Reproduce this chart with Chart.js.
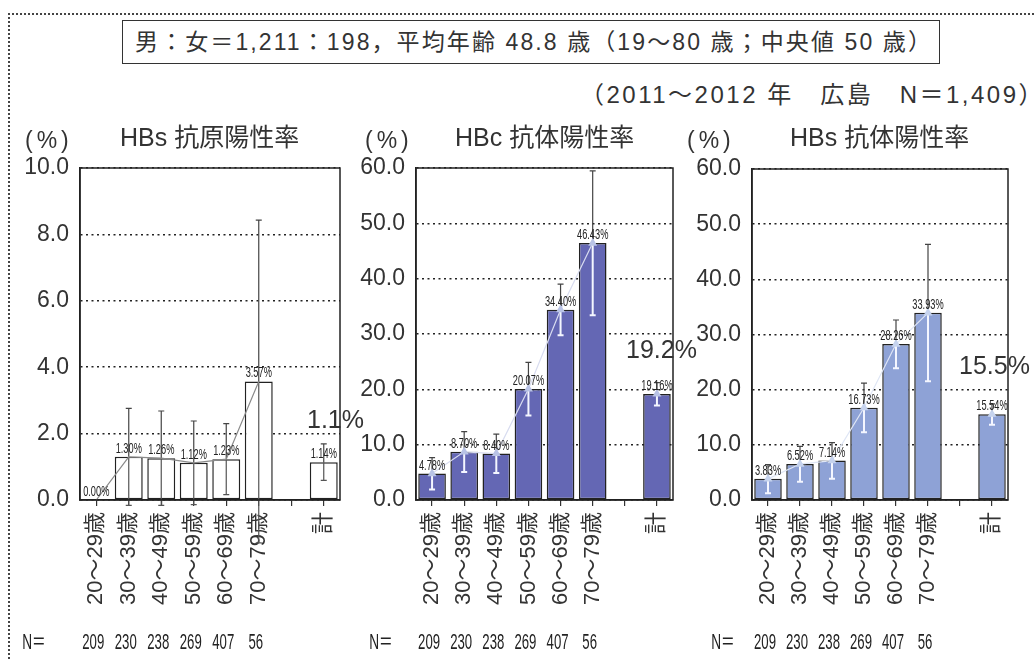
<!DOCTYPE html>
<html lang="ja">
<head>
<meta charset="UTF-8">
<title>HBV マーカー陽性率（広島 2011～2012年）</title>
<script src="https://cdn.jsdelivr.net/npm/chart.js"></script>
<style>
  body {
    margin: 0;
    width: 1034px;
    height: 660px;
    position: relative;
    overflow: hidden;
    background: #fff;
    color: #333;
    font-family: "Liberation Sans", "Noto Sans CJK JP", sans-serif;
  }
  .frame {
    position: absolute;
    left: 8px; top: 13px;
    width: 1100px; height: 700px;
    border-top: 2px dotted #444;
    border-left: 2px dotted #444;
  }
  .titleBox {
    position: absolute;
    left: 122px; top: 20px;
    width: 816px; height: 42px;
    border: 1.5px solid #333;
    font-size: 23px;
    line-height: 42px;
    text-align: center;
    letter-spacing: 2.1px;
    text-indent: 6px;
  }
  .sub {
    position: absolute;
    left: 580px; top: 81px;
    font-size: 24px;
    line-height: 28px;
    letter-spacing: 2.5px;
    white-space: nowrap;
  }
  .txt {
    position: absolute;
    white-space: nowrap;
    line-height: 28px;
    z-index: 2;
  }
  .ptitle { font-size: 25px; }
  .unit { font-size: 23px; letter-spacing: 4px; }
  .big { font-size: 25px; }
  canvas { position: absolute; top: 150px; }
</style>
</head>
<body>
  <div class="frame"></div>
  <div class="titleBox">男：女＝1,211：198，平均年齢 48.8 歳（19～80 歳；中央値 50 歳）</div>
  <div class="sub">（2011～2012 年　広島　N＝1,409）</div>

  <div class="txt unit" style="left:25px;top:126px;">(%)</div>
  <div class="txt ptitle" style="left:120px;top:123px;">HBs 抗原陽性率</div>
  <div class="txt unit" style="left:365px;top:126px;">(%)</div>
  <div class="txt ptitle" style="left:455px;top:123px;">HBc 抗体陽性率</div>
  <div class="txt unit" style="left:687px;top:126px;">(%)</div>
  <div class="txt ptitle" style="left:790px;top:123px;">HBs 抗体陽性率</div>

  <div class="txt big" style="left:307px;top:405px;">1.1%</div>
  <div class="txt big" style="left:626px;top:335px;">19.2%</div>
  <div class="txt big" style="left:959px;top:351px;">15.5%</div>

  <canvas id="chartAg" width="345" height="510" style="left:0px;"></canvas>
  <canvas id="chartHBc" width="340" height="510" style="left:345px;"></canvas>
  <canvas id="chartHBs" width="349" height="510" style="left:685px;"></canvas>

<script>
  // 年代別カテゴリ（7番目は「計」との間の空き）
  const ageGroups = ['20～29歳', '30～39歳', '40～49歳', '50～59歳', '60～69歳', '70～79歳', '', '計'];
  const groupN = [209, 230, 238, 269, 407, 56];

  // 陽性率 (%) と誤差幅 (±%)
  const hbsAgRate = [0.00, 1.30, 1.26, 1.12, 1.23, 3.57, null, 1.14];
  const hbsAgErr  = [0, 1.46, 1.42, 1.26, 1.07, 4.86, null, 0.55];
  const hbcAbRate = [4.78, 8.70, 8.40, 20.07, 34.40, 46.43, null, 19.16];
  const hbcAbErr  = [2.89, 3.64, 3.52, 4.79, 4.62, 13.06, null, 2.06];
  const hbsAbRate = [3.83, 6.52, 7.14, 16.73, 28.26, 33.93, null, 15.54];
  const hbsAbErr  = [2.60, 3.19, 3.27, 4.46, 4.37, 12.40, null, 1.89];

  const FONT = '"Liberation Sans", "Noto Sans CJK JP", sans-serif';

  // 目盛ラベルによる余白の自動追加を止めて、描画領域を固定する
  function noPadding(s) {
    s.paddingTop = 0;
    s.paddingBottom = 0;
    s.paddingLeft = 0;
    s.paddingRight = 0;
  }

  function makePanel(id, p) {
    // 誤差棒：棒より上は濃色、棒の中は白線
    const errorBars = {
      id: 'errorBars',
      afterDatasetDraw(chart, args) {
        if (args.index !== 1) return;
        const ctx = chart.ctx, xs = chart.scales.x, ys = chart.scales.y;
        p.err.forEach((e, i) => {
          if (!e) return;
          const v = p.rate[i];
          const px = xs.getPixelForValue(i);
          const yHi = ys.getPixelForValue(v + e);
          const yV = ys.getPixelForValue(v);
          const yLo = ys.getPixelForValue(v - e);
          ctx.save();
          ctx.lineWidth = 1.2;
          ctx.strokeStyle = '#444';
          ctx.beginPath();
          ctx.moveTo(px, yHi); ctx.lineTo(px, yV);
          ctx.moveTo(px - 3, yHi); ctx.lineTo(px + 3, yHi);
          ctx.stroke();
          ctx.lineWidth = p.innerWidth;
          ctx.strokeStyle = p.inner;
          ctx.beginPath();
          ctx.moveTo(px, yV); ctx.lineTo(px, yLo);
          ctx.moveTo(px - 3, yLo); ctx.lineTo(px + 3, yLo);
          ctx.stroke();
          ctx.restore();
        });
      }
    };

    // 枠線・数値ラベル・N 行
    const extras = {
      id: 'extras',
      afterDraw(chart) {
        const ctx = chart.ctx, a = chart.chartArea, xs = chart.scales.x, ys = chart.scales.y;
        ctx.save();
        ctx.strokeStyle = '#222';
        ctx.lineWidth = 1.5;
        ctx.strokeRect(a.left, a.top, a.right - a.left, a.bottom - a.top);

        ctx.fillStyle = '#222';
        ctx.textAlign = 'center';
        ctx.textBaseline = 'alphabetic';
        ctx.font = '14px ' + FONT;
        p.rate.forEach((v, i) => {
          if (v === null) return;
          const px = xs.getPixelForValue(i);
          const py = ys.getPixelForValue(v) - 4;
          ctx.save();
          ctx.translate(px, py);
          ctx.scale(0.66, 1);
          ctx.fillText(v.toFixed(2) + '%', 0, 0);
          ctx.restore();
        });

        ctx.font = '22px ' + FONT;
        ctx.textBaseline = 'middle';
        const rowY = 643 - 150;
        ctx.save();
        ctx.translate(a.left - p.nOffset, rowY);
        ctx.scale(0.62, 1);
        ctx.fillText('N＝', 0, 0);
        ctx.restore();
        groupN.forEach((n, i) => {
          ctx.save();
          ctx.translate(xs.getPixelForValue(i) - 3, rowY);
          ctx.scale(0.6, 1);
          ctx.fillText(String(n), 0, 0);
          ctx.restore();
        });
        ctx.restore();
      }
    };

    return new Chart(document.getElementById(id), {
      data: {
        labels: ageGroups,
        datasets: [
          {
            type: 'line',
            data: p.rate,
            order: 1,
            borderColor: p.lineColor,
            borderWidth: 1.2,
            pointStyle: 'triangle',
            pointRadius: p.pointRadius,
            pointBackgroundColor: p.pointColor,
            pointBorderColor: p.pointColor,
            spanGaps: false
          },
          {
            type: 'bar',
            data: p.rate,
            order: 2,
            backgroundColor: p.fill,
            borderColor: '#222',
            borderWidth: 1.5,
            borderSkipped: false,
            barPercentage: 0.86,
            categoryPercentage: 1.0
          }
        ]
      },
      options: {
        responsive: false,
        animation: false,
        layout: { padding: { left: 0, right: p.padRight, top: p.padTop, bottom: 0 } },
        plugins: { legend: { display: false }, tooltip: { enabled: false } },
        scales: {
          x: {
            afterFit: s => { s.height = 160; noPadding(s); },
            grid: { offset: false, drawOnChartArea: false, drawTicks: true, tickLength: 6, color: '#333', lineWidth: 1.2 },
            border: { display: true, color: '#222', width: 1.5 },
            ticks: {
              autoSkip: false, minRotation: 90, maxRotation: 90, padding: 6,
              color: '#333', font: { size: 22, family: FONT }
            }
          },
          y: {
            min: 0, max: p.max,
            afterFit: s => { s.width = p.axisWidth; noPadding(s); },
            grid: { color: '#222', lineWidth: 1.6, drawTicks: false },
            border: { display: true, color: '#222', width: 1.5, dash: [2, 3.5] },
            ticks: {
              stepSize: p.step, padding: 11, color: '#333',
              font: { size: 23, family: FONT },
              callback: v => v.toFixed(1)
            }
          }
        }
      },
      plugins: [errorBars, extras]
    });
  }

  makePanel('chartAg', {
    rate: hbsAgRate, err: hbsAgErr, max: 10, step: 2,
    fill: '#ffffff', lineColor: '#8a8a8a', pointColor: '#8a8a8a', pointRadius: 0,
    inner: '#555', innerWidth: 1.2,
    axisWidth: 80, padRight: 5, padTop: 18, nOffset: 46
  });

  makePanel('chartHBc', {
    rate: hbcAbRate, err: hbcAbErr, max: 60, step: 10,
    fill: '#6467b4', lineColor: '#d8dcf0', pointColor: '#b9c3e6', pointRadius: 4,
    inner: '#f4f6ff', innerWidth: 2,
    axisWidth: 71, padRight: 12, padTop: 18, nOffset: 35
  });

  makePanel('chartHBs', {
    rate: hbsAbRate, err: hbsAbErr, max: 60, step: 10,
    fill: '#8ea2d6', lineColor: '#dfe6f5', pointColor: '#c6d3ee', pointRadius: 4,
    inner: '#f4f6ff', innerWidth: 2,
    axisWidth: 67, padRight: 26, padTop: 19, nOffset: 29
  });
</script>
</body>
</html>
